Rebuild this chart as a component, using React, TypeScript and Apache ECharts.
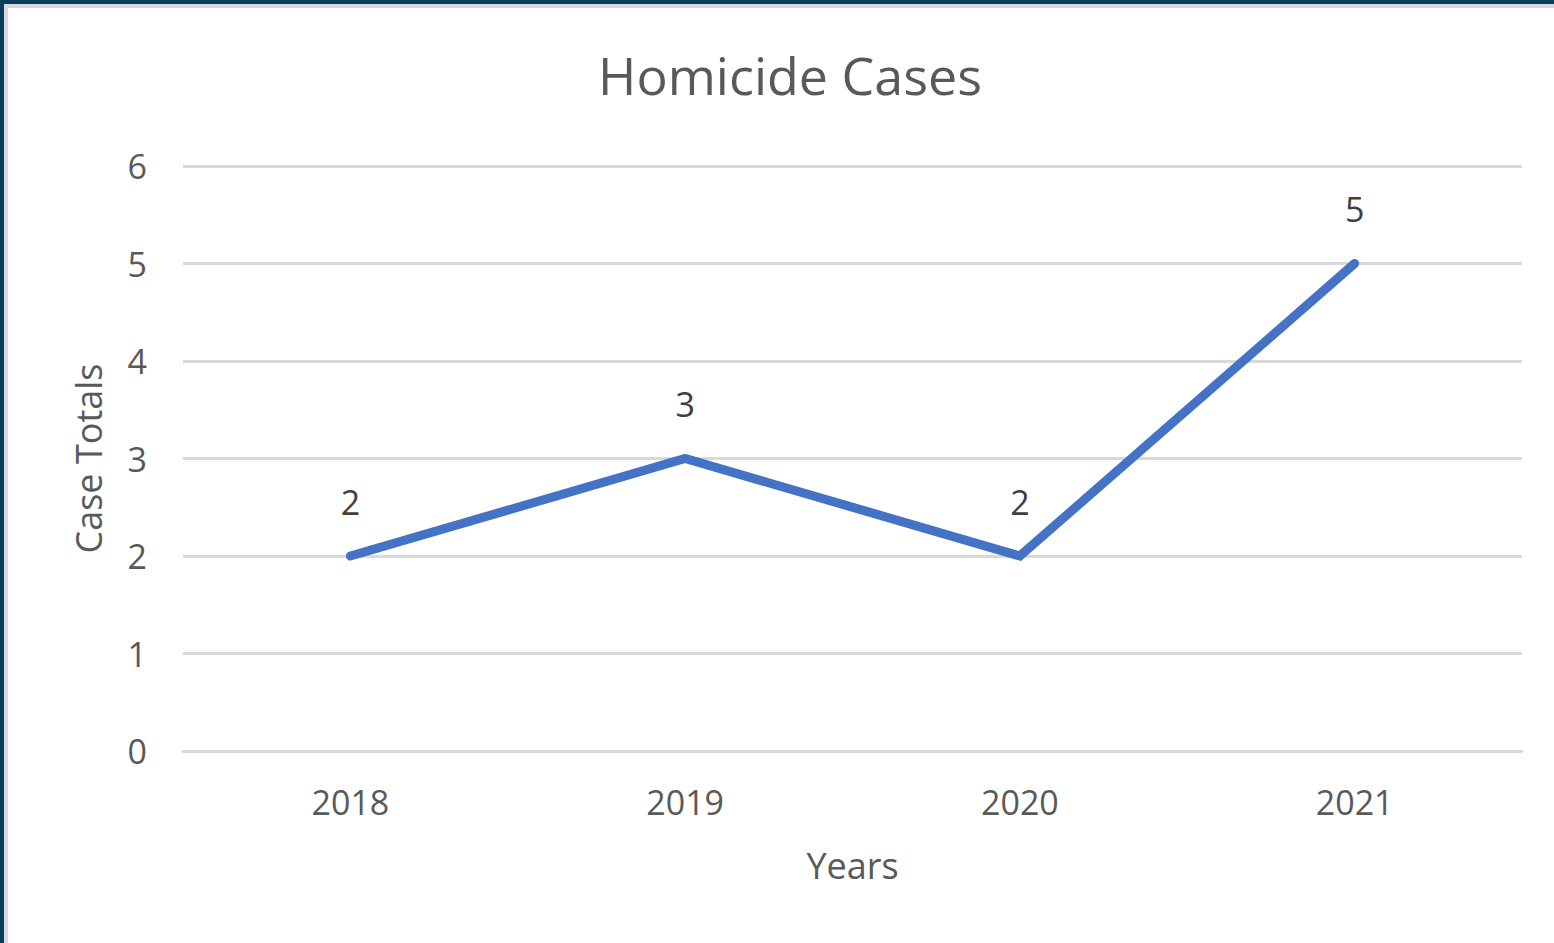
import React, { useEffect, useRef } from "react";
import * as echarts from "echarts";

const years = ["2018", "2019", "2020", "2021"];
const caseTotals = [2, 3, 2, 5];
const yTicks = { min: 0, max: 6, interval: 1 };

const FONT = "'Open Sans', 'Noto Sans', sans-serif";

export default function App() {
  const ref = useRef<HTMLDivElement>(null);
  useEffect(() => {
    if (!ref.current) return;
    const chart = echarts.init(ref.current, null, { renderer: "svg" });
    chart.setOption({
      animation: false,
      backgroundColor: "#ffffff",
      title: {
        text: "Homicide Cases",
        left: 785,
        textAlign: "center",
        top: 43,
        textStyle: { fontFamily: FONT, fontSize: 52, fontWeight: "normal", color: "#595959" },
      },
      grid: { left: 183, top: 166, width: 1339, height: 585, containLabel: false },
      xAxis: {
        type: "category",
        data: years,
        boundaryGap: true,
        name: "Years",
        nameLocation: "middle",
        nameGap: 96,
        nameTextStyle: { fontFamily: FONT, fontSize: 36, color: "#595959" },
        axisLine: { show: true, lineStyle: { color: "#d9d9d9", width: 3 } },
        axisTick: { show: false },
        axisLabel: { fontFamily: FONT, fontSize: 34, color: "#595959", margin: 34 },
      },
      yAxis: {
        type: "value",
        min: yTicks.min,
        max: yTicks.max,
        interval: yTicks.interval,
        name: "Case Totals",
        nameLocation: "middle",
        nameGap: 77,
        nameTextStyle: { fontFamily: FONT, fontSize: 36, color: "#595959" },
        axisLine: { show: false },
        axisTick: { show: false },
        axisLabel: { fontFamily: FONT, fontSize: 34, color: "#595959", margin: 36 },
        splitLine: { lineStyle: { color: "#d9d9d9", width: 3 } },
      },
      series: [
        {
          type: "line",
          data: caseTotals,
          showSymbol: true,
          symbol: "circle",
          symbolSize: 1,
          lineStyle: { color: "#4472C4", width: 9, cap: "round", join: "miter" },
          itemStyle: { color: "#4472C4" },
          label: {
            show: true,
            position: "top",
            distance: 37,
            fontFamily: FONT,
            fontSize: 34,
            color: "#404040",
          },
        },
      ],
    });
    return () => chart.dispose();
  }, []);

  return (
    <div style={{ position: "absolute", left: 0, top: 0, width: 1554, height: 943, background: "#fff", overflow: "hidden" }}>
      <div ref={ref} style={{ position: "absolute", left: 0, top: 0, width: 1554, height: 943 }} />
      <div style={{ position: "absolute", left: 0, top: 0, width: 1554, height: 4, background: "#0c3d5c" }} />
      <div style={{ position: "absolute", left: 4, top: 4, width: 1550, height: 4, background: "#d9d9d9" }} />
      <div style={{ position: "absolute", left: 0, top: 0, width: 4, height: 943, background: "#0c3d5c" }} />
      <div style={{ position: "absolute", left: 4, top: 4, width: 4, height: 939, background: "#d9d9d9" }} />
    </div>
  );
}
